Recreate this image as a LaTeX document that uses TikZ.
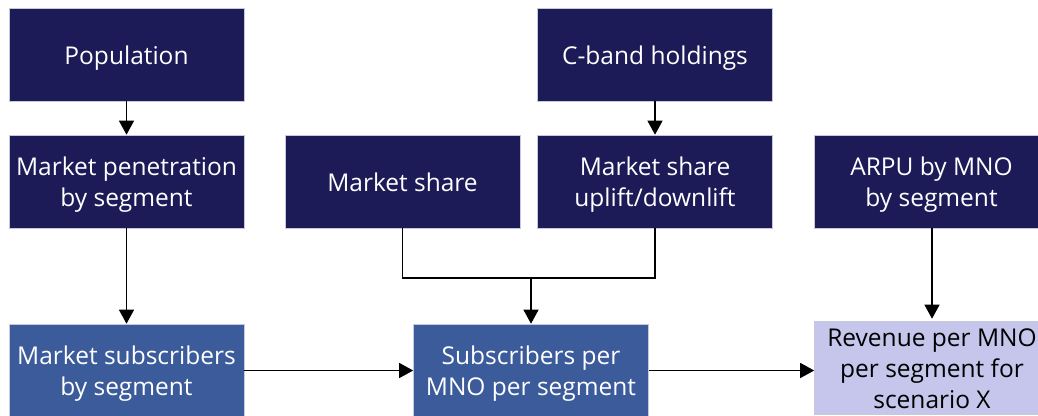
\documentclass[tikz,border=0pt]{standalone}
\usepackage{fontspec}
\setmainfont{Open Sans}
\usetikzlibrary{arrows.meta}
\definecolor{navy}{HTML}{1C1A57}
\definecolor{midblue}{HTML}{3C5B9B}
\definecolor{lilac}{HTML}{C6C6EC}
\definecolor{edge}{HTML}{C8C8DA}
\newcommand\tline[1]{\rule[-4pt]{0pt}{27pt}\smash{#1}}
\begin{document}
\begin{tikzpicture}[x=1pt,y=-1pt,
  box/.style={draw=edge,line width=0.6pt,minimum width=235pt,minimum height=93pt,inner sep=1pt,align=center,font=\fontsize{24.5}{31.5}\selectfont},
  dark/.style={box,fill=navy,text=white},
  mid/.style={box,fill=midblue,text=white},
  light/.style={box,fill=lilac,text=black,font=\fontsize{24.5}{31}\selectfont},
  conn/.style={line width=1.2pt,draw=black},
  arr/.style={conn,-{Triangle[length=14pt,width=15pt]}}]
\useasboundingbox (0,0) rectangle (1038,415);
\node[dark] (pop) at (126.5,54.5) {\tline{Population}};
\node[dark] (cband) at (655,54.5) {\tline{C-band holdings}};
\node[dark] (pen) at (126.5,181.5) {\tline{Market penetration}\\\tline{by segment}};
\node[dark] (share) at (402.5,181.5) {\tline{Market share}};
\node[dark] (uplift) at (655,181.5) {\tline{Market share}\\\tline{uplift/downlift}};
\node[dark] (arpu) at (931.5,181.5) {\tline{ARPU by MNO}\\\tline{by segment}};
\node[mid] (msub) at (126.5,370.5) {\tline{Market subscribers}\\\tline{by segment}};
\node[mid] (sub) at (531,370.5) {\tline{Subscribers per}\\\tline{MNO per segment}};
\node[light] (rev) at (932,368) {\tline{Revenue per MNO}\\\tline{per segment for}\\\tline{scenario X}};
\coordinate (m) at (531,278);
\draw[arr] (pop) -- (pen);
\draw[arr] (cband) -- (uplift);
\draw[arr] (pen) -- (msub);
\draw[conn] (share.south) |- (m) -| (uplift.south);
\draw[arr] (m) -- (sub);
\draw[arr] (arpu.south -| rev.north) -- ([yshift=2.5pt]rev.north);
\draw[arr] (msub) -- (sub);
\draw[arr] (sub) -- (sub -| rev.west);
\end{tikzpicture}
\end{document}
